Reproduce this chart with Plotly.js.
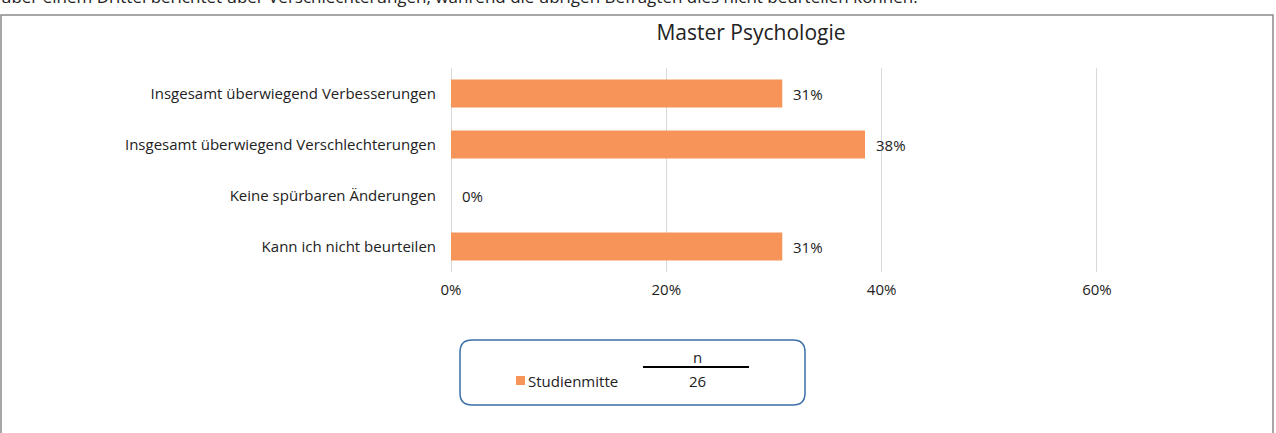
<!DOCTYPE html>
<html>
<head>
<meta charset="utf-8">
<script src="https://cdn.plot.ly/plotly-3.0.1.min.js"></script>
<style>
  html, body { margin: 0; padding: 0; background: #fff; }
  #plot { width: 1276px; height: 433px; }
</style>
</head>
<body>
<div id="plot"></div>
<script>
// Master Psychologie - Studienmitte, n = 26
var categories = [
  "Insgesamt überwiegend Verbesserungen",
  "Insgesamt überwiegend Verschlechterungen",
  "Keine spürbaren Änderungen",
  "Kann ich nicht beurteilen"
];
var shares = [0.3077, 0.3846, 0, 0.3077];
var seriesName = "Studienmitte";
var nTotal = 26;
var xTicks = [0, 0.2, 0.4, 0.6];
var xTickText = ["0%", "20%", "40%", "60%"];

var W = 1276, H = 433;
var mL = 451, mR = 178, mT = 68, mB = 161;
var pw = W - mL - mR, ph = H - mT - mB;
// pixel -> paper coords, for the decoration around the plot
function px(x) { return (x - mL) / pw; }
function py(y) { return (H - mB - y) / ph; }

var font = "Open Sans, Segoe UI, sans-serif";
var orange = "#F7945A";
var txt = "#222";

var trace = {
  type: "bar",
  orientation: "h",
  y: categories,
  x: shares,
  name: seriesName,
  marker: { color: orange },
  width: 0.55,
  hoverinfo: "x+y"
};

var annotations = [];
// data labels
for (var i = 0; i < categories.length; i++) {
  annotations.push({
    x: shares[i], y: categories[i], xref: "x", yref: "y",
    text: Math.round(shares[i] * 100) + "%",
    showarrow: false, xanchor: "left", xshift: 9,
    font: { family: font, size: 15, color: txt }
  });
}
// cut-off sentence above the frame
annotations.push({
  xref: "paper", yref: "paper", x: px(-1), y: py(10),
  xanchor: "left", yanchor: "bottom", showarrow: false,
  text: "über einem Drittel berichtet über Verschlechterungen, während die übrigen Befragten dies nicht beurteilen können.",
  font: { family: font, size: 17, color: txt }
});
// legend contents
annotations.push({
  xref: "paper", yref: "paper", x: px(526), y: py(381),
  xanchor: "left", yanchor: "middle", showarrow: false,
  text: seriesName, font: { family: font, size: 15, color: txt }
});
annotations.push({
  xref: "paper", yref: "paper", x: px(697), y: py(357),
  xanchor: "center", yanchor: "middle", showarrow: false,
  text: "n", font: { family: font, size: 15, color: txt }
});
annotations.push({
  xref: "paper", yref: "paper", x: px(697), y: py(381),
  xanchor: "center", yanchor: "middle", showarrow: false,
  text: String(nTotal), font: { family: font, size: 15, color: txt }
});

// rounded legend box
var bx0 = px(460), bx1 = px(805), by0 = py(340), by1 = py(405);
var rx = 12 / pw, ry = 12 / ph;
var boxPath = "M" + (bx0 + rx) + "," + by0 +
  " L" + (bx1 - rx) + "," + by0 +
  " Q" + bx1 + "," + by0 + " " + bx1 + "," + (by0 - ry) +
  " L" + bx1 + "," + (by1 + ry) +
  " Q" + bx1 + "," + by1 + " " + (bx1 - rx) + "," + by1 +
  " L" + (bx0 + rx) + "," + by1 +
  " Q" + bx0 + "," + by1 + " " + bx0 + "," + (by1 + ry) +
  " L" + bx0 + "," + (by0 - ry) +
  " Q" + bx0 + "," + by0 + " " + (bx0 + rx) + "," + by0 + " Z";

var shapes = [
  // outer frame
  { type: "rect", xref: "paper", yref: "paper",
    x0: px(1), x1: px(1273), y0: py(15), y1: py(450),
    line: { color: "#8a8a8a", width: 1.5 } },
  { type: "path", xref: "paper", yref: "paper", path: boxPath,
    line: { color: "#3B6FA8", width: 1.5 } },
  // legend swatch
  { type: "rect", xref: "paper", yref: "paper",
    x0: px(516), x1: px(525), y0: py(376), y1: py(385),
    fillcolor: orange, line: { width: 0 } },
  // rule under n
  { type: "line", xref: "paper", yref: "paper",
    x0: px(643), x1: px(749), y0: py(367), y1: py(367),
    line: { color: "#000", width: 2 } }
];

var layout = {
  width: W, height: H,
  margin: { l: mL, r: mR, t: mT, b: mB, pad: 0 },
  paper_bgcolor: "#fff", plot_bgcolor: "#fff",
  showlegend: false,
  font: { family: font, size: 15, color: txt },
  title: {
    text: "Master Psychologie",
    x: 751 / W, xanchor: "center", xref: "container",
    y: 1 - 33 / H, yanchor: "middle", yref: "container",
    font: { family: font, size: 21, color: txt }
  },
  xaxis: {
    range: [0, 0.601],
    tickvals: xTicks, ticktext: xTickText,
    showgrid: true, gridcolor: "#d9d9d9", gridwidth: 1,
    zeroline: true, zerolinecolor: "#d9d9d9", zerolinewidth: 1,
    showline: false, ticks: "",
    ticklabelstandoff: 7,
    tickfont: { family: font, size: 15, color: txt },
    fixedrange: true
  },
  yaxis: {
    autorange: "reversed",
    showgrid: false, zeroline: false, showline: false, ticks: "",
    ticklabelstandoff: 14,
    tickfont: { family: font, size: 15, color: txt },
    fixedrange: true
  },
  bargap: 0.45,
  annotations: annotations,
  shapes: shapes
};

Plotly.newPlot("plot", [trace], layout, { displayModeBar: false, staticPlot: true });
</script>
</body>
</html>
